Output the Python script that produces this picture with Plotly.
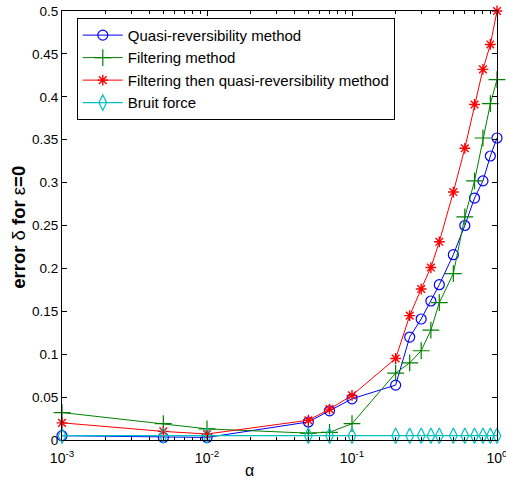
import plotly.graph_objects as go

alpha = [1e-3, 5e-3, 1e-2, 0.05, 0.07, 0.1, 0.2, 0.25, 0.3, 0.35, 0.4, 0.5, 0.6, 0.7, 0.8, 0.9, 1.0]
quasi = [0.005, 0.003, 0.003, 0.021, 0.034, 0.048, 0.064, 0.120, 0.141, 0.162, 0.181, 0.216, 0.250, 0.282, 0.302, 0.331, 0.352]
filtering = [0.032, 0.019, 0.013, 0.008, 0.009, 0.019, 0.078, 0.090, 0.104, 0.128, 0.160, 0.194, 0.260, 0.302, 0.352, 0.392, 0.420]
filt_quasi = [0.020, 0.010, 0.007, 0.023, 0.036, 0.052, 0.095, 0.145, 0.176, 0.201, 0.231, 0.289, 0.340, 0.391, 0.432, 0.461, 0.500]
bruit = [0.005] * len(alpha)

names = ["Quasi-reversibility method", "Filtering method",
         "Filtering then quasi-reversibility method", "Bruit force"]
x_tickvals = [1e-3, 1e-2, 1e-1, 1]
x_ticktext = ["10<sup>-3</sup>", "10<sup>-2</sup>", "10<sup>-1</sup>", "10<sup>0</sup>"]
x_minor = [m * 10.0 ** e for e in (-3, -2, -1) for m in range(2, 10)]
y_tickvals = [0, 0.05, 0.1, 0.15, 0.2, 0.25, 0.3, 0.35, 0.4, 0.45, 0.5]
y_ticktext = ["0", "0.05", "0.1", "0.15", "0.2", "0.25", "0.3", "0.35", "0.4", "0.45", "0.5"]

fig = go.Figure()
fig.add_trace(go.Scatter(x=alpha, y=quasi, name=names[0], mode="lines+markers", cliponaxis=False,
                         line=dict(color="#0000ff", width=1),
                         marker=dict(symbol="circle-open", size=10, color="#0000ff", line=dict(width=1.2))))
fig.add_trace(go.Scatter(x=alpha, y=filtering, name=names[1], mode="lines+markers", cliponaxis=False,
                         line=dict(color="#008000", width=1),
                         marker=dict(symbol="cross-thin-open", size=12, color="#008000", line=dict(width=1.2, color="#008000"))))
fig.add_trace(go.Scatter(x=alpha, y=filt_quasi, name=names[2], mode="lines+markers", cliponaxis=False,
                         line=dict(color="#ff0000", width=1),
                         marker=dict(symbol="asterisk-open", size=9, color="#ff0000", line=dict(width=1.4, color="#ff0000"))))
fig.add_trace(go.Scatter(x=alpha, y=bruit, name=names[3], mode="lines+markers", cliponaxis=False,
                         line=dict(color="#00bfbf", width=1.2),
                         marker=dict(symbol="diamond-tall-open", size=11, color="#00bfbf", line=dict(width=1.2))))

fig.update_layout(
    width=506, height=490,
    margin=dict(l=62, r=9, t=11, b=50),
    paper_bgcolor="white", plot_bgcolor="white",
    font=dict(family="Liberation Sans, Arial, sans-serif", color="black", size=12),
    showlegend=True,
    legend=dict(x=0.034, y=0.984, xanchor="left", yanchor="top",
                bgcolor="white", bordercolor="black", borderwidth=1,
                font=dict(size=15), itemwidth=40, tracegroupgap=0,
                traceorder="normal"),
    annotations=[
        dict(text="α", xref="paper", yref="paper", x=0.432, y=-0.07,
             xanchor="center", yanchor="middle", showarrow=False, font=dict(size=16)),
        dict(text="<b>error</b> δ <b>for</b> ε<b>=0</b>", xref="paper", yref="paper",
             x=-0.099, y=0.497, xanchor="center", yanchor="middle", textangle=-90,
             showarrow=False, font=dict(size=18.5)),
    ],
)
fig.update_xaxes(type="log", range=[-3, 0], tickvals=x_tickvals, ticktext=x_ticktext,
                 ticks="inside", ticklen=5, tickcolor="black", showline=True, linecolor="black",
                 linewidth=1, mirror="allticks", showgrid=False, zeroline=False, automargin=False,
                 ticklabeloverflow="allow", ticklabelstandoff=5,
                 minor=dict(ticks="inside", ticklen=3, tickcolor="black", showgrid=False, tickvals=x_minor),
                 tickfont=dict(size=14))
fig.update_yaxes(range=[0, 0.5], tickvals=y_tickvals, ticktext=y_ticktext,
                 ticks="inside", ticklen=5, tickcolor="black", showline=True, linecolor="black",
                 linewidth=1, mirror="allticks", showgrid=False, zeroline=False, automargin=False,
                 ticklabeloverflow="allow",
                 tickfont=dict(size=13.5))

fig.write_html("out.html", config={"displayModeBar": False},
               post_script="document.body.style.margin='0';document.body.style.overflow='hidden';")
